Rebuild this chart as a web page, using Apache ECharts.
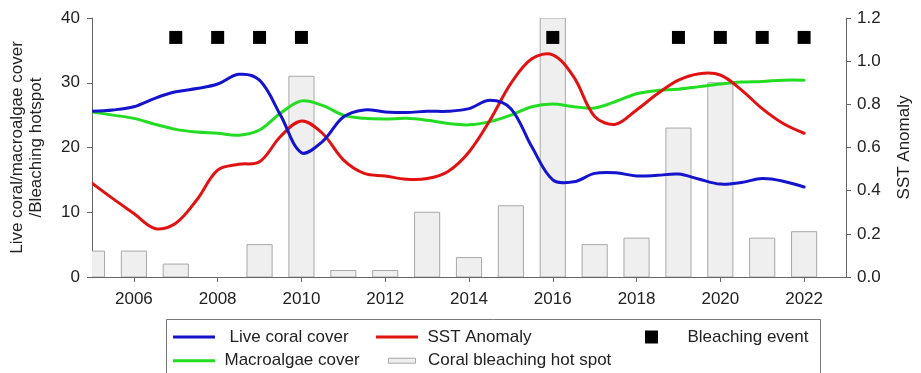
<!DOCTYPE html>
<html>
<head>
<meta charset="utf-8">
<script src="https://cdn.jsdelivr.net/npm/echarts@6/dist/echarts.min.js"></script>
<style>
  html, body { margin: 0; padding: 0; background: #fff; }
  #chart { width: 921px; height: 373px; }
</style>
</head>
<body>
<div id="chart"></div>
<script>
// Annual coral bleaching hot spot counts (left axis)
const barYears = [2005, 2006, 2007, 2008, 2009, 2010, 2011, 2012, 2013, 2014, 2015, 2016, 2017, 2018, 2019, 2020, 2021, 2022];
const hotSpot  = [4, 4, 2, 0, 5, 31, 1, 1, 10, 3, 11, 40, 5, 6, 23, 30, 6, 7];

// Years with a recorded bleaching event, drawn as markers near the top
const bleachYears = [2007, 2008, 2009, 2010, 2016, 2019, 2020, 2021, 2022];
const bleachLevel = 37;

// Half-yearly sample times shared by the three trend lines
const trendYears = [2005, 2005.5, 2006, 2006.5, 2007, 2007.5, 2008, 2008.5, 2009, 2009.5,
                    2010, 2010.5, 2011, 2011.5, 2012, 2012.5, 2013, 2013.5, 2014, 2014.5,
                    2015, 2015.5, 2016, 2016.5, 2017, 2017.5, 2018, 2018.5, 2019, 2019.5,
                    2020, 2020.5, 2021, 2021.5, 2022];

// Live coral cover (%)
const coralCover = [25.6, 25.8, 26.3, 27.6, 28.6, 29.1, 29.8, 31.3, 30.4, 25.0,
                    19.2, 20.9, 24.7, 25.8, 25.5, 25.4, 25.6, 25.6, 26.0, 27.3,
                    26.0, 20.1, 15.0, 14.7, 16.0, 16.1, 15.6, 15.7, 15.9, 15.1,
                    14.35, 14.6, 15.2, 14.8, 13.9];

// Macroalgae cover (%)
const algaeCover = [25.5, 25.0, 24.5, 23.6, 22.8, 22.4, 22.2, 21.9, 22.7, 25.3,
                    27.2, 26.5, 25.0, 24.5, 24.4, 24.5, 24.2, 23.7, 23.5, 24.0,
                    25.0, 26.3, 26.7, 26.3, 26.1, 27.1, 28.3, 28.8, 29.0, 29.4,
                    29.8, 30.1, 30.2, 30.4, 30.4];

// Sea surface temperature anomaly (right axis)
const sstAnomaly = [0.435, 0.363, 0.294, 0.225, 0.249, 0.357, 0.495, 0.522, 0.534, 0.651,
                    0.723, 0.666, 0.543, 0.48, 0.468, 0.453, 0.456, 0.489, 0.579, 0.726,
                    0.897, 1.011, 1.029, 0.927, 0.744, 0.708, 0.774, 0.849, 0.912, 0.942,
                    0.936, 0.867, 0.78, 0.711, 0.666];

// Axis labels
const yearTicks = [2006, 2008, 2010, 2012, 2014, 2016, 2018, 2020, 2022];
const leftTitle = 'Live coral/macroalgae cover\n/Bleaching hotspot';
const rightTitle = 'SST Anomaly';

const pairs = (xs, ys) => xs.map((x, i) => [x, ys[i]]);

const FONT = '"Liberation Sans", Arial, sans-serif';
const axisGray = '#666';
const textColor = '#222';
const labelStyle = { color: textColor, fontSize: 17, fontFamily: FONT };

const barFill = '#efefef';
const barEdge = '#a8a8a8';

const chart = echarts.init(document.getElementById('chart'), null, { renderer: 'canvas' });

function legendAt(name, left, top, icon, gap, extra) {
  return Object.assign({
    data: [name],
    left: left,
    top: top,
    padding: 0,
    itemGap: 0,
    selectedMode: false,
    icon: 'rect',
    itemWidth: icon[0],
    itemHeight: icon[1],
    textStyle: { color: textColor, fontSize: 17, lineHeight: 17, fontFamily: FONT, padding: [0, 0, 0, gap] }
  }, extra || {});
}

// Hot spot bars are drawn as rectangles sized through the axis scales,
// clipped to the plotting area so the first year is cut at the axis.
function renderBar(params, api) {
  const year = api.value(0);
  const v = api.value(1);
  if (!v) return null;
  const base = api.coord([year, 0]);
  const top = api.coord([year, v]);
  const w = api.size([0.6, 0])[0];
  return {
    type: 'rect',
    shape: { x: base[0] - w / 2, y: top[1], width: w, height: base[1] - top[1] },
    style: { fill: barFill, stroke: barEdge, lineWidth: 1 }
  };
}

// Each trend is one smooth spline through its samples, placed with the axis scales.
function trendCurve(name, values, color, axisIndex, z) {
  return {
    name: name,
    type: 'custom',
    yAxisIndex: axisIndex,
    clip: true,
    encode: { x: 0, y: 1 },
    data: pairs(trendYears, values),
    itemStyle: { color: color },
    renderItem: function (params, api) {
      if (params.dataIndex !== 0) return null;
      const points = trendYears.map((t, i) => api.coord([t, values[i]]));
      return {
        type: 'polyline',
        shape: { points: points, smooth: 0.35 },
        style: { stroke: color, lineWidth: 3, fill: null, lineJoin: 'round', lineCap: 'round' }
      };
    },
    z: z
  };
}

const option = {
  animation: false,
  backgroundColor: '#fff',
  grid: { left: 92, right: 74, top: 18, bottom: 96 },
  xAxis: {
    type: 'value',
    min: 2005,
    max: 2023,
    axisLine: { show: true, lineStyle: { color: axisGray, width: 1 } },
    axisTick: { show: true, inside: false, length: 5, customValues: yearTicks, lineStyle: { color: axisGray } },
    axisLabel: { customValues: yearTicks, margin: 14, formatter: v => String(v), ...labelStyle },
    splitLine: { show: false }
  },
  yAxis: [
    {
      type: 'value',
      min: 0, max: 40, interval: 10,
      name: leftTitle,
      nameLocation: 'middle',
      nameRotate: 90,
      nameGap: 46,
      nameTextStyle: { color: textColor, fontSize: 17, fontFamily: FONT, lineHeight: 19 },
      axisLine: { show: true, lineStyle: { color: axisGray } },
      axisTick: { show: true, length: 5, lineStyle: { color: axisGray } },
      axisLabel: { margin: 12, ...labelStyle },
      splitLine: { show: false }
    },
    {
      type: 'value',
      min: 0, max: 1.2, interval: 0.2,
      name: rightTitle,
      nameLocation: 'middle',
      nameRotate: 90,
      nameGap: 50,
      nameTextStyle: { color: textColor, fontSize: 17, fontFamily: FONT },
      position: 'right',
      axisLine: { show: true, lineStyle: { color: axisGray } },
      axisTick: { show: true, length: 5, lineStyle: { color: axisGray } },
      axisLabel: { margin: 11, formatter: v => v.toFixed(1), ...labelStyle },
      splitLine: { show: false }
    }
  ],
  legend: [
    legendAt('Live coral cover', 173, 328.5, [42, 3], 9.5),
    legendAt('SST Anomaly', 376, 328.5, [42, 3], 4.5),
    legendAt('Bleaching event', 645, 328.5, [13, 13], 24.5,
      { itemStyle: { color: '#000', opacity: 1 } }),
    legendAt('Macroalgae cover', 173, 352.2, [42, 3], 4.5),
    legendAt('Coral bleaching hot spot', 388, 352.2, [27, 5], 7.5,
      { itemStyle: { color: barFill, borderColor: barEdge, borderWidth: 1 } })
  ],
  graphic: [
    {
      type: 'rect',
      shape: { x: 166.5, y: 319.5, width: 654, height: 60 },
      style: { fill: 'none', stroke: '#777', lineWidth: 1 },
      silent: true,
      z: -1
    }
  ],
  series: [
    {
      name: 'Coral bleaching hot spot',
      type: 'custom',
      yAxisIndex: 0,
      clip: true,
      renderItem: renderBar,
      encode: { x: 0, y: 1 },
      data: pairs(barYears, hotSpot),
      itemStyle: { color: barFill, borderColor: barEdge, borderWidth: 1 },
      z: 1
    },
    trendCurve('Macroalgae cover', algaeCover, '#22dd22', 0, 3),
    trendCurve('SST Anomaly', sstAnomaly, '#e01212', 1, 4),
    trendCurve('Live coral cover', coralCover, '#1414cc', 0, 5),
    {
      name: 'Bleaching event',
      type: 'scatter',
      yAxisIndex: 0,
      symbol: 'rect',
      symbolSize: 13,
      data: bleachYears.map(y => [y, bleachLevel]),
      itemStyle: { color: '#000', opacity: 1 },
      z: 6
    }
  ]
};

chart.setOption(option);
</script>
</body>
</html>
